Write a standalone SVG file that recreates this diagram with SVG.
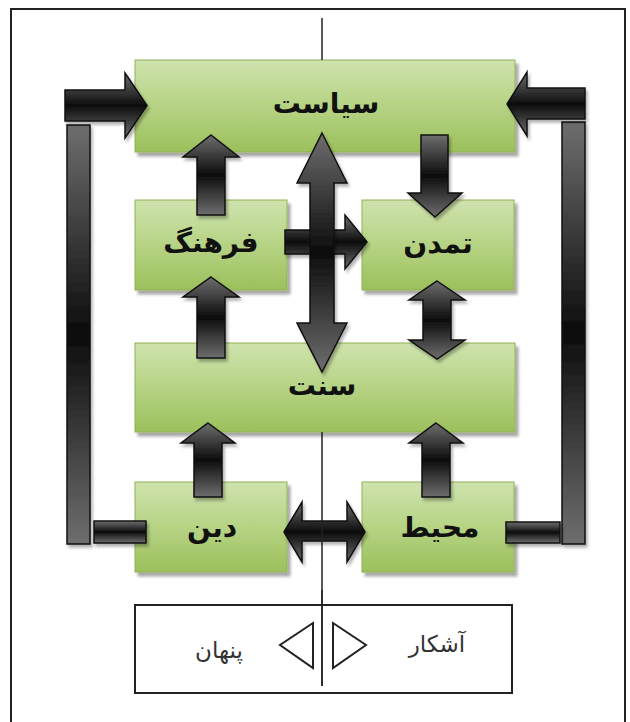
<svg xmlns="http://www.w3.org/2000/svg" width="630" height="722" viewBox="0 0 630 722">
<defs>
<linearGradient id="boxGrad" x1="0" y1="0" x2="0" y2="1">
<stop offset="0" stop-color="#cfe3ae"/>
<stop offset="0.5" stop-color="#b6d384"/>
<stop offset="1" stop-color="#9cc05c"/>
</linearGradient>
<linearGradient id="arrGrad" x1="0" y1="0" x2="0" y2="1">
<stop offset="0" stop-color="#6e6e6e"/>
<stop offset="0.5" stop-color="#0c0c0c"/>
<stop offset="1" stop-color="#6e6e6e"/>
</linearGradient>
<filter id="shadow" x="-10%" y="-10%" width="130%" height="140%">
<feDropShadow dx="3" dy="4" stdDeviation="1.8" flood-color="#000" flood-opacity="0.35"/>
</filter>
<filter id="ashadow" x="-20%" y="-20%" width="150%" height="150%">
<feDropShadow dx="2" dy="3" stdDeviation="1.5" flood-color="#000" flood-opacity="0.3"/>
</filter>
</defs>
<style>
.box{fill:url(#boxGrad);stroke:#8fb253;stroke-width:1;filter:url(#shadow)}
.arr{fill:url(#arrGrad);stroke:#111;stroke-width:1.5;stroke-linejoin:miter;filter:url(#ashadow)}
.lbl{font-family:"DejaVu Sans",sans-serif;font-weight:bold;font-size:28px;fill:#111;text-anchor:middle}
.leg{font-family:"DejaVu Sans",sans-serif;font-size:23px;fill:#333;text-anchor:middle}
.thin{stroke:#222;stroke-width:2;fill:none}
</style>
<rect x="0" y="0" width="630" height="722" fill="#fff"/>
<rect x="11" y="9" width="614" height="740" fill="#fff" stroke="#222" stroke-width="2"/>

<g id="siasat"><rect class="box" x="135" y="60" width="380" height="92"/><text class="lbl" x="326" y="113">سیاست</text></g>
<g id="farhang"><rect class="box" x="135" y="200" width="152" height="90"/><text class="lbl" x="211" y="252">فرهنگ</text></g>
<g id="tamadon"><rect class="box" x="362" y="200" width="152" height="90"/><text class="lbl" x="438" y="253">تمدن</text></g>
<g id="sonat"><rect class="box" x="135" y="343" width="380" height="89"/><text class="lbl" x="322" y="395">سنت</text></g>
<g id="din"><rect class="box" x="135" y="482" width="152" height="90"/><text class="lbl" x="212" y="537">دین</text></g>
<g id="mohit"><rect class="box" x="362" y="482" width="152" height="90"/><text class="lbl" x="440" y="537">محیط</text></g>

<g id="connectors">
<!-- left loop -->
<rect class="arr" x="67" y="125" width="23" height="419"/>
<rect class="arr" x="94" y="521" width="52" height="22"/>
<path class="arr" d="M65,90 H125 V73 L147,105.5 L125,138 V121 H65 Z"/>
<!-- right loop -->
<rect class="arr" x="562" y="122" width="23" height="422"/>
<rect class="arr" x="506" y="522" width="54" height="21"/>
<path class="arr" d="M585,88 H527 V72 L507,104 L527,136 V119 H585 Z"/>
<!-- farhang -> siasat -->
<path class="arr" d="M211,135 L239,157 H225 V215 H197 V157 H183 Z"/>
<!-- sonat -> farhang -->
<path class="arr" d="M211,277 L239,297 H225 V358 H197 V297 H183 Z"/>
<!-- din -> sonat -->
<path class="arr" d="M208,423 L235,443 H222 V497 H194 V443 H181 Z"/>
<!-- mohit -> sonat -->
<path class="arr" d="M436,423 L463,443 H450 V497 H422 V443 H409 Z"/>
<!-- siasat -> tamadon -->
<path class="arr" d="M421,135 H448 V193 H462 L435,217 L408,193 H421 Z"/>
<!-- tamadon <-> sonat -->
<path class="arr" d="M437,281 L465,300 H451 V340 H465 L437,359 L409,340 H423 V300 H409 Z"/>
<!-- farhang -> tamadon -->
<path class="arr" d="M285,230 H345 V215 L367,242 L345,269 V254 H285 Z"/>
<!-- siasat <-> sonat -->
<path class="arr" d="M322,133 L347,183 H334 V323 H347 L322,372 L297,323 H310 V183 H297 Z"/>
<!-- din <-> mohit -->
<path class="arr" d="M284,532 L302,502 V521 H347 V502 L365,532 L347,562 V541 H302 V562 Z"/>
<!-- center divider -->
<line class="thin" x1="322" y1="18" x2="322" y2="60" style="stroke-width:1.5"/>
<line class="thin" x1="322" y1="432" x2="322" y2="686" style="stroke-width:1.5"/>
</g>

<g id="legend">
<rect x="135" y="605" width="377" height="88" fill="none" stroke="#222" stroke-width="2"/>
<line class="thin" x1="322" y1="590" x2="322" y2="686" style="stroke-width:1.5"/>
<polygon points="313,623 280,645 313,668" fill="#fff" stroke="#222" stroke-width="2"/>
<polygon points="333,623 366,645 333,668" fill="#fff" stroke="#222" stroke-width="2"/>
<text class="leg" x="219" y="658">پنهان</text>
<text class="leg" x="437" y="652">آشکار</text>
</g>
</svg>
